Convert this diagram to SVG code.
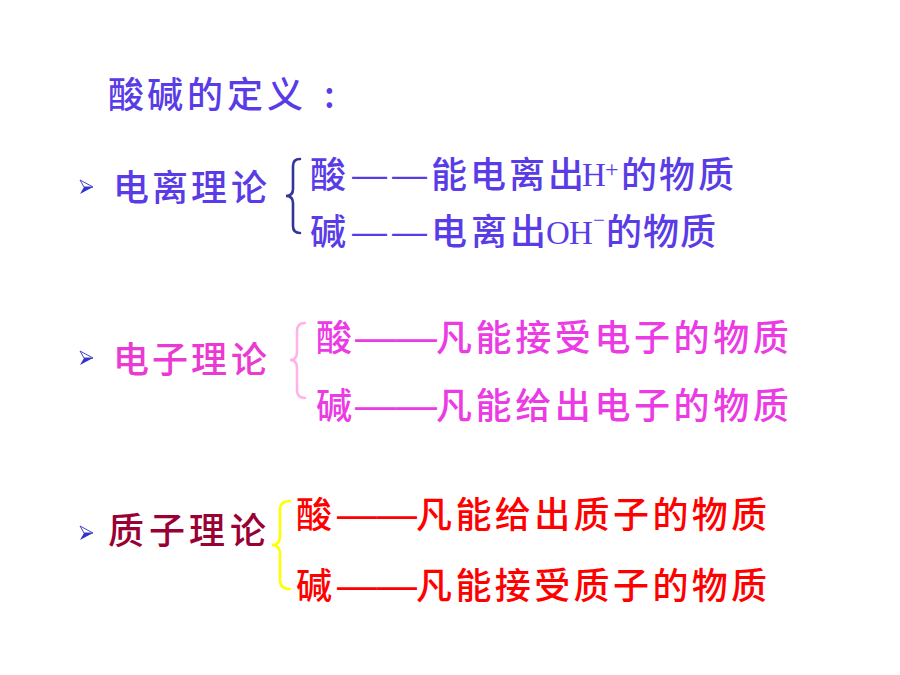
<svg xmlns="http://www.w3.org/2000/svg" width="900" height="675" viewBox="0 0 900 675">
<style>
.cn{font-family:"Noto Sans CJK SC","Noto Sans CJK TC",sans-serif;font-size:36px;font-weight:500}
.lat{font-family:"Liberation Serif",serif;font-weight:400}
.dash{font-family:"Liberation Sans",sans-serif;font-weight:400}
.s1{fill:#5a3ce6}
.s2{fill:#ec3ae4}
.s3{fill:#ff0000}
.brace{fill:none;stroke-width:2.6;stroke-linecap:round}
</style>
<defs>
<g id="bullet">
<polygon points="0,-7 13,0 4,0" fill="#ffffff" stroke="#4444cc" stroke-width="1"/>
<polygon points="4,0 13,0 0,7" fill="#3333cc"/>
</g>
</defs>
<rect width="900" height="675" fill="#ffffff"/>
<g id="title">
<text class="cn s1" y="108" font-size="37"><tspan x="108 147 187 227 267 324">酸碱的定义:</tspan></text>
</g>
<g id="electrolytic">
<use href="#bullet" x="80" y="187"/>
<text class="cn s1" y="201"><tspan x="113 152 191 231">电离理论</tspan></text>
</g>
<g id="electrolytic-acid">
<text class="cn s1"><tspan x="310" y="188">酸</tspan><tspan class="dash" x="352" y="187" font-size="35">—</tspan><tspan class="dash" x="392" y="187" font-size="35">—</tspan><tspan x="431 470 509 548" y="188">能电离出</tspan><tspan class="lat" x="582" y="186" font-size="33">H</tspan><tspan class="lat" x="605" y="177" font-size="24">+</tspan><tspan x="621 659 698" y="188">的物质</tspan></text>
</g>
<g id="electrolytic-base">
<text class="cn s1"><tspan x="310" y="245">碱</tspan><tspan class="dash" x="352" y="244" font-size="35">—</tspan><tspan class="dash" x="392" y="244" font-size="35">—</tspan><tspan x="431 471 510" y="245">电离出</tspan><tspan class="lat" x="546" y="244" font-size="33">O</tspan><tspan class="lat" x="569" y="244" font-size="33">H</tspan><tspan class="lat" x="593" y="227" font-size="21">−</tspan><tspan x="606 643 680" y="245">的物质</tspan></text>
</g>
<g id="electronic">
<use href="#bullet" x="80" y="358"/>
<text class="cn" fill="#ea3ad2" y="373"><tspan x="113 152 191 231">电子理论</tspan></text>
</g>
<g id="electronic-acid">
<text class="cn s2"><tspan x="316" y="351">酸</tspan><tspan class="dash" x="355" y="351" font-size="41">——</tspan><tspan x="436 475.6 515.2 554.8 594.4 634 673.6 713.2 752.8" y="351">凡能接受电子的物质</tspan></text>
</g>
<g id="electronic-base">
<text class="cn s2"><tspan x="316" y="419">碱</tspan><tspan class="dash" x="355" y="419" font-size="41">——</tspan><tspan x="436 475.6 515.2 554.8 594.4 634 673.6 713.2 752.8" y="419">凡能给出电子的物质</tspan></text>
</g>
<g id="protonic">
<use href="#bullet" x="80" y="533"/>
<text class="cn" fill="#990033" y="544"><tspan x="108 149 189 230">质子理论</tspan></text>
</g>
<g id="protonic-acid">
<text class="cn s3"><tspan x="296" y="528">酸</tspan><tspan class="dash" x="337" y="528" font-size="40">——</tspan><tspan x="416 455.4 494.8 534.2 573.6 613 652.4 691.8 731" y="528">凡能给出质子的物质</tspan></text>
</g>
<g id="protonic-base">
<text class="cn s3"><tspan x="296" y="599">碱</tspan><tspan class="dash" x="337" y="599" font-size="40">——</tspan><tspan x="416 455.4 494.8 534.2 573.6 613 652.4 691.8 731" y="599">凡能接受质子的物质</tspan></text>
</g>
<g id="connectors">
<path class="brace" stroke="#333399" d="M300,159 Q293,159 293,166 L293,189 Q293,196 286,196 Q293,196 293,203 L293,226 Q293,233 300,233"/>
<path class="brace" stroke="#ffb3e6" d="M305,323 Q297,323 297,331 L297,352 Q297,360 290,360 Q297,360 297,368 L297,390 Q297,398 305,398"/>
<path class="brace" stroke="#ffff00" stroke-width="3" d="M290,501 Q280,501 280,510 L280,536 Q280,545 272,545 Q280,545 280,554 L280,580 Q280,589 290,589"/>
</g>
</svg>
